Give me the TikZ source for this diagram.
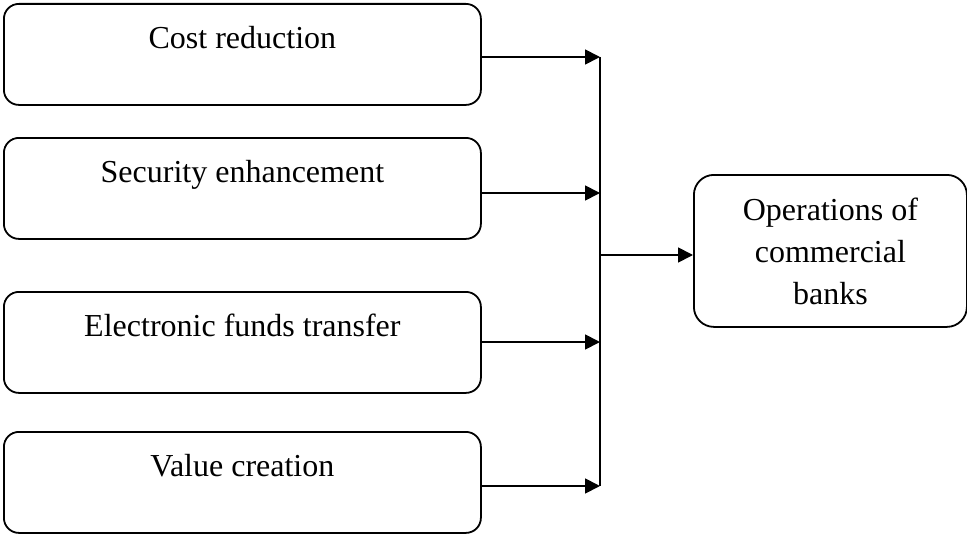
\documentclass[tikz,border=0pt]{standalone}
\usepackage{fontspec}
\setmainfont{Liberation Serif}
\usetikzlibrary{arrows.meta}
\begin{document}
\begin{tikzpicture}[x=1pt,y=-1pt,
  inbox/.style={draw, line width=1.8pt, rounded corners=15pt, inner sep=0pt,
    minimum width=477pt, text height=45pt, text depth=56pt,
    font=\fontsize{32}{42}\selectfont, anchor=north west},
  outbox/.style={draw, line width=1.8pt, rounded corners=20pt, inner sep=0pt,
    minimum width=273pt, minimum height=152pt, align=center,
    font=\fontsize{32}{42}\selectfont, anchor=north west},
  conn/.style={line width=1.8pt},
  arr/.style={line width=1.8pt, -{Triangle[length=15pt,width=15pt]}}]
\useasboundingbox (0,0) rectangle (967,535);
\node[inbox] (b1) at (3,3) {Cost reduction};
\node[inbox] (b2) at (3,137) {Security enhancement};
\node[inbox] (b3) at (3,291) {Electronic funds transfer};
\node[inbox] (b4) at (3,431) {Value creation};
\node[outbox] (r) at (693,174) {Operations of\\commercial\\banks};
\coordinate (j1) at (600,57);
\coordinate (j2) at (600,193);
\coordinate (j3) at (600,342);
\coordinate (j4) at (600,486);
\coordinate (jm) at (600,255);
\draw[conn] (j1) -- (j4);
\draw[arr] (b1.east |- j1) -- (j1);
\draw[arr] (b2.east |- j2) -- (j2);
\draw[arr] (b3.east |- j3) -- (j3);
\draw[arr] (b4.east |- j4) -- (j4);
\draw[arr] (jm) -- (r.west |- jm);
\end{tikzpicture}
\end{document}
